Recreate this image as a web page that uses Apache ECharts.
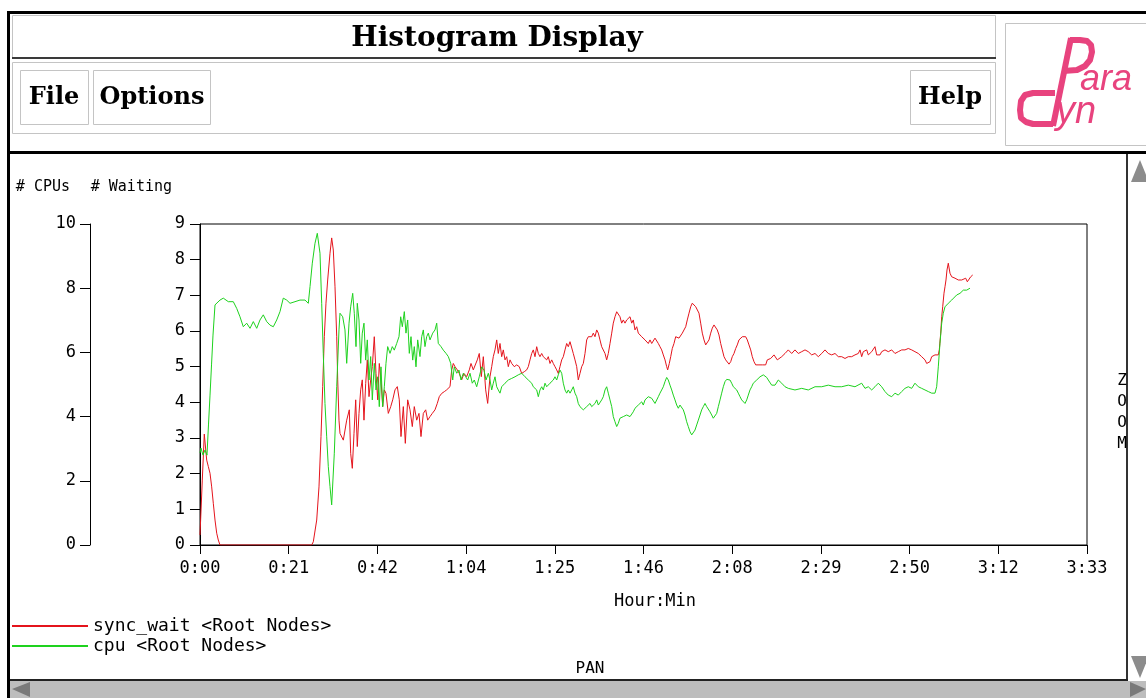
<!DOCTYPE html>
<html>
<head>
<meta charset="utf-8">
<script src="https://cdn.jsdelivr.net/npm/echarts@6/dist/echarts.min.js"></script>
<style>
html,body{margin:0;padding:0;background:#fff;}
#chart{width:1146px;height:698px;}
</style>
</head>
<body>
<div id="chart"></div>
<script>
// ---- data (time in minutes, values in axis units) ----
const xTickLabels = ['0:00','0:21','0:42','1:04','1:25','1:46','2:08','2:29','2:50','3:12','3:33'];
const seriesNames = ['sync_wait <Root Nodes>', 'cpu <Root Nodes>'];
const axisNames = ['# Waiting', '# CPUs'];

// sync_wait, plotted on "# Waiting" axis
const syncWait = [
[0,0.28],[0.24,0.33],[0.55,1.82],[1.03,3.11],[1.61,2.38],[2.00,2.20],[2.41,2.01],[2.81,1.63],[3.20,1.17],[3.61,0.70],[4.02,0.33],[4.40,0.14],[4.81,0],
[26.86,0],[27.25,0.09],[28.07,0.70],[28.62,1.63],[29.10,3.04],[29.51,4.44],[29.90,5.84],[30.30,6.78],[30.71,7.43],[31.27,8.18],[31.67,8.61],[32.06,8.27],[32.47,7.24],[32.88,5.84],[33.12,4.63],[33.43,3.50],[33.67,3.13],[34.47,2.94],
[35.28,3.50],[35.91,3.79],[36.24,2.57],[36.63,2.15],[37.04,3.13],[37.45,4.07],[37.83,2.76],[38.24,3.69],[38.65,4.35],[39.03,4.63],[39.44,3.50],[39.85,4.53],[40.24,5.19],[40.65,4.16],[41.05,4.63],[41.44,5.00],[41.92,5.84],[42.33,4.81],[42.74,4.07],[43.12,5.09],[43.53,4.63],[43.94,3.88],[44.33,4.35],[44.73,4.25],[45.29,3.69],[45.87,3.88],[46.35,4.07],[46.90,4.35],[47.45,4.44],[47.93,4.07],[48.34,3.04],[48.90,3.88],[49.38,2.85],[49.95,4.07],[50.51,3.79],[51.06,3.32],[51.54,3.88],[52.12,3.50],[52.67,3.69],[53.15,3.04],[53.71,3.69],[54.28,3.79],[54.76,3.50],[55.32,3.60],[55.87,3.69],[56.52,3.79],[57.07,3.97],[57.55,4.16],[58.13,4.25],[58.76,4.30],[59.33,4.35],[60.13,4.44],[60.54,4.91],[60.92,5.09],[61.33,5.00],[61.88,4.91],[62.36,4.81],[62.94,4.63],[63.49,4.81],[64.14,4.72],[64.77,4.91],[65.18,5.09],[65.73,4.91],[66.14,4.91],[66.69,5.19],[67.17,5.37],[67.66,4.72],[68.14,5.28],[68.71,4.35],[69.19,3.97],[69.75,4.72],[70.16,5.00],[70.54,5.28],[70.95,5.47],[71.36,5.75],[71.74,5.37],[72.15,5.65],[72.56,5.28],[72.95,5.47],[73.36,5.19],[73.76,5.28],[74.15,5.00],[74.56,5.19],[74.97,5.09],[75.59,5.00],[76.17,5.05],[76.79,5.00],[77.37,4.81],[78.00,4.86],[78.57,4.91],[78.96,5.00],[79.37,5.19],[79.78,5.37],[80.16,5.47],[80.57,5.28],[80.98,5.56],[81.37,5.37],[81.77,5.28],[82.18,5.37],[82.57,5.28],[82.98,5.33],[83.38,5.19],[83.77,5.28],[84.18,5.09],[84.59,5.19],[84.97,5.09],[85.38,5.00],[85.79,4.91],[86.17,4.81],[86.58,5.00],[86.99,5.19],[87.38,5.28],[87.79,5.47],[88.19,5.65],[88.58,5.56],[88.99,5.70],[89.40,5.65],[89.78,5.37],[90.19,5.19],[90.60,5.00],[90.98,4.63],[91.39,4.81],[91.80,5.00],[92.19,5.09],[92.60,5.37],[93.00,5.75],[93.39,5.84],[93.80,5.89],[94.21,5.84],[94.59,5.94],[95.00,5.84],[95.41,6.03],[95.80,5.94],[96.20,5.75],[96.61,5.56],[97.00,5.51],[97.41,5.37],[97.81,5.19],[98.20,5.37],[98.61,5.65],[99.02,5.94],[99.40,6.22],[99.81,6.40],[100.22,6.54],[100.61,6.50],[101.01,6.40],[101.42,6.22],[101.81,6.31],[102.22,6.22],[102.63,6.31],[103.01,6.36],[103.42,6.40],[103.83,6.22],[104.21,6.31],[104.62,6.03],[105.03,6.12],[105.42,5.94],[105.82,5.98],[106.23,5.84],[106.62,5.89],[107.03,5.75],[107.43,5.70],[107.82,5.65],[108.23,5.75],[108.64,5.65],[109.02,5.70],[109.43,5.80],[109.84,5.75],[110.23,5.65],[110.63,5.56],[111.04,5.47],[111.43,5.33],[111.84,5.19],[112.24,5.00],[112.48,4.91],[112.87,5.09],[113.21,5.28],[113.59,5.51],[114.00,5.65],[114.41,5.84],[114.80,5.89],[115.20,5.80],[115.61,5.75],[116.00,5.94],[116.41,5.98],[116.82,6.12],[117.20,6.31],[117.61,6.50],[118.02,6.68],[118.40,6.78],[118.81,6.73],[119.22,6.68],[119.60,6.64],[120.01,6.50],[120.42,6.22],[120.81,5.94],[121.22,5.75],[121.62,5.61],[122.01,5.56],[122.42,5.75],[122.83,5.94],[123.21,6.08],[123.62,6.17],[124.03,6.12],[124.41,6.03],[124.82,5.89],[125.23,5.65],[125.62,5.47],[126.03,5.28],[126.43,5.19],[126.82,5.14],[127.23,5.07],[127.64,5.14],[128.02,5.28],[128.43,5.37],[128.84,5.51],[129.22,5.61],[129.63,5.75],[130.04,5.80],[130.43,5.84],[130.84,5.89],[131.24,5.84],[131.63,5.75],[132.04,5.61],[132.45,5.47],[132.83,5.28],[133.24,5.14],[133.65,5.05],[134.04,5.09],[134.44,5.05],[134.85,5.09],[135.24,5.05],[135.65,5.09],[136.05,5.05],[136.44,5.19],[136.85,5.14],[137.26,5.23],[137.64,5.28],[138.05,5.33],[138.46,5.28],[138.85,5.19],[139.26,5.23],[139.91,5.28],[140.70,5.37],[141.49,5.47],[142.31,5.37],[143.10,5.47],[143.90,5.37],[144.72,5.42],[145.51,5.47],[146.30,5.42],[147.12,5.33],[147.92,5.37],[148.71,5.28],[149.53,5.37],[150.32,5.47],[151.11,5.37],[151.93,5.33],[152.73,5.37],[153.52,5.28],[154.34,5.28],[155.13,5.23],[155.92,5.28],[156.74,5.28],[157.53,5.33],[158.33,5.37],[158.74,5.47],[159.14,5.28],[159.53,5.42],[159.94,5.37],[160.35,5.47],[160.73,5.33],[161.14,5.37],[161.55,5.42],[161.94,5.47],[162.34,5.56],[162.75,5.33],[163.14,5.37],[163.55,5.33],[163.95,5.42],[164.75,5.47],[165.54,5.42],[166.36,5.47],[167.15,5.37],[167.95,5.42],[168.77,5.47],[169.56,5.47],[170.35,5.51],[170.76,5.56],[171.17,5.47],[171.96,5.42],[172.76,5.37],[173.57,5.28],[173.96,5.33],[174.37,5.19],[174.78,5.09],[175.16,5.05],[175.57,5.14],[175.98,5.28],[176.37,5.23],[176.77,5.33],[177.18,5.28],[177.57,5.33],[177.81,5.47],[178.15,5.94],[178.39,6.40],[178.63,6.68],[178.94,7.06],[179.18,7.24],[179.42,7.43],[179.66,7.71],[179.97,7.90],[180.38,7.62],[180.79,7.52],[181.59,7.48],[182.38,7.43],[183.20,7.43],[183.59,7.38],[184.16,7.48],[184.55,7.38],[184.95,7.43],[185.36,7.52],[185.84,7.57]
];

// cpu, plotted on "# CPUs" axis
const cpu = [
[0,2.87],[0.24,3.02],[0.72,2.80],[1.20,2.96],[1.68,2.80],[2.04,3.74],[2.41,4.67],[2.77,5.61],[3.13,6.54],[3.61,7.48],[4.81,7.63],[5.60,7.69],[6.81,7.58],[8.01,7.58],[8.83,7.37],[9.62,7.11],[10.41,6.80],[11.23,6.91],[12.03,6.75],[12.82,6.96],[13.64,6.75],[14.43,7.01],[15.22,7.17],[16.04,6.96],[16.84,6.85],[17.63,6.80],[18.45,7.01],[19.24,7.27],[20.03,7.69],[20.85,7.63],[21.65,7.53],[22.85,7.58],[24.05,7.63],[25.25,7.63],[26.05,7.53],[26.46,8.05],[27.01,8.78],[27.66,9.40],[28.21,9.71],[28.86,9.09],[29.27,7.53],[29.65,5.97],[30.06,4.41],[30.47,3.37],[30.86,2.44],[31.27,1.82],[31.67,1.25],[32.30,2.86],[32.88,4.93],[33.43,6.70],[33.67,7.22],[34.32,7.11],[34.87,6.70],[35.28,5.66],[35.84,6.91],[36.24,7.42],[36.73,7.84],[37.11,7.22],[37.52,6.18],[37.83,7.53],[38.24,7.01],[38.65,5.66],[39.03,6.60],[39.44,6.91],[39.85,5.76],[40.24,6.39],[40.65,5.14],[41.05,5.87],[41.44,4.52],[41.92,5.66],[42.33,4.83],[42.74,5.24],[43.12,4.31],[43.53,5.55],[43.94,4.31],[44.33,4.93],[44.73,5.66],[45.14,6.18],[45.70,5.97],[46.25,6.18],[46.73,6.07],[47.31,6.28],[47.86,6.49],[48.27,7.11],[48.66,6.80],[49.14,7.27],[49.54,6.60],[49.95,7.01],[50.34,5.97],[50.75,6.49],[51.16,5.76],[51.54,6.18],[51.95,5.55],[52.36,6.39],[52.91,5.87],[53.32,6.49],[53.71,6.70],[54.11,6.18],[54.52,6.49],[54.91,6.60],[55.32,6.39],[55.97,6.60],[56.52,6.70],[56.93,6.91],[57.31,6.28],[57.96,6.18],[58.52,6.07],[59.17,5.97],[59.72,5.87],[60.30,5.66],[60.78,5.14],[61.16,5.55],[61.74,5.35],[62.29,5.45],[62.77,5.14],[63.33,5.35],[63.90,5.24],[64.38,5.14],[64.94,5.35],[65.49,5.04],[65.97,5.14],[66.55,4.93],[67.17,5.24],[67.75,5.55],[68.30,5.45],[68.79,5.14],[69.34,5.35],[69.75,5.14],[70.16,4.83],[70.54,5.04],[70.95,5.24],[71.36,4.93],[71.74,4.83],[72.15,4.73],[72.56,4.93],[72.95,4.88],[73.36,5.04],[73.76,5.04],[74.15,5.14],[74.56,5.09],[74.97,5.19],[75.76,5.24],[76.55,5.30],[77.37,5.35],[78.17,5.24],[78.96,5.14],[79.78,5.04],[80.16,4.93],[80.57,4.98],[80.98,4.83],[81.37,4.62],[81.77,4.83],[82.18,4.93],[82.57,4.83],[82.98,5.04],[83.38,4.93],[83.77,4.93],[84.18,5.04],[84.59,5.09],[84.97,5.14],[85.38,5.24],[85.79,5.14],[86.17,5.30],[86.58,5.45],[86.99,5.35],[87.38,5.04],[87.79,4.83],[88.19,4.73],[88.58,4.83],[88.99,4.73],[89.40,4.83],[89.78,4.93],[90.19,4.73],[90.60,4.62],[90.98,4.41],[91.39,4.31],[91.80,4.36],[92.19,4.21],[92.60,4.26],[93.00,4.31],[93.39,4.36],[93.80,4.41],[94.21,4.31],[94.59,4.36],[95.00,4.41],[95.41,4.52],[95.80,4.36],[96.20,4.41],[96.61,4.52],[97.00,4.62],[97.41,4.83],[97.81,4.93],[98.20,4.73],[98.61,4.52],[99.02,4.31],[99.40,4.00],[99.81,3.84],[100.22,3.69],[100.61,3.79],[101.01,3.95],[101.42,3.89],[101.81,4.00],[102.22,3.95],[102.63,4.05],[103.01,4.00],[103.42,4.00],[104.21,4.15],[104.62,4.26],[105.03,4.21],[105.42,4.36],[105.82,4.41],[106.23,4.46],[106.62,4.36],[107.03,4.52],[107.43,4.57],[107.82,4.62],[108.23,4.67],[108.64,4.57],[109.02,4.52],[109.43,4.41],[109.84,4.46],[110.23,4.62],[110.63,4.73],[111.04,4.83],[111.43,4.93],[111.84,5.09],[112.24,5.22],[112.63,5.14],[113.04,4.98],[113.45,4.83],[113.83,4.67],[114.24,4.52],[114.65,4.36],[115.04,4.26],[115.44,4.36],[115.85,4.31],[116.24,4.21],[116.65,4.05],[117.05,3.84],[117.44,3.69],[117.85,3.53],[118.26,3.43],[118.64,3.48],[119.05,3.58],[119.46,3.74],[119.85,3.89],[120.26,4.05],[120.66,4.21],[121.05,4.31],[121.46,4.41],[121.87,4.31],[122.25,4.26],[122.66,4.15],[123.07,4.05],[123.45,3.95],[123.86,4.00],[124.27,4.10],[124.66,4.31],[125.07,4.52],[125.47,4.73],[125.86,4.93],[126.27,5.09],[126.68,5.16],[127.06,5.19],[127.47,5.14],[127.88,5.04],[128.27,4.93],[128.67,4.88],[129.08,4.83],[129.47,4.73],[129.88,4.62],[130.28,4.52],[130.67,4.46],[131.08,4.41],[131.49,4.52],[131.87,4.67],[132.28,4.83],[132.69,4.93],[133.07,5.04],[133.48,5.09],[133.89,5.14],[134.28,5.19],[134.69,5.24],[135.09,5.26],[135.48,5.30],[135.89,5.26],[136.30,5.22],[136.68,5.14],[137.09,5.09],[137.50,4.98],[137.89,4.93],[138.30,4.98],[138.70,5.04],[139.09,5.14],[139.91,5.04],[140.70,4.93],[141.49,4.88],[143.10,4.83],[144.72,4.88],[146.30,4.83],[147.92,4.93],[149.53,4.93],[151.11,4.98],[152.73,4.93],[154.34,4.93],[155.92,4.98],[157.53,4.93],[159.14,5.04],[159.94,4.88],[160.73,4.93],[161.55,4.83],[162.34,4.93],[163.14,5.04],[163.95,4.93],[164.75,4.78],[165.54,4.67],[166.36,4.62],[167.15,4.73],[167.95,4.67],[168.77,4.78],[169.56,4.88],[170.35,4.93],[171.17,4.88],[171.96,5.04],[172.76,4.93],[173.57,4.88],[174.37,4.83],[175.16,4.78],[175.98,4.73],[176.77,4.73],[177.18,4.93],[177.57,5.55],[177.97,6.28],[178.39,6.91],[178.77,7.22],[179.18,7.42],[179.97,7.53],[180.79,7.63],[182.00,7.79],[182.79,7.84],[183.59,7.94],[184.39,7.94],[185.19,8.00]
];

// ---- styling ----
const MONO = 'DejaVu Sans Mono';
const RED = '#e4141c';
const GREEN = '#1ed21e';
const PINK = '#e8437e';
const FRAME = '#c4c4c4';

const toSeconds = arr => arr.map(p => [p[0] * 60, p[1]]);

const chart = echarts.init(document.getElementById('chart'), null, { renderer: 'canvas' });

const monoLabel = { color: '#000', fontFamily: MONO, fontSize: 17 };
const monoName = { color: '#000', fontFamily: MONO, fontSize: 15 };

const option = {
  backgroundColor: '#ffffff',
  animation: false,
  textStyle: { fontFamily: MONO },
  grid: {
    left: 200, top: 224, width: 887, height: 321,
    show: true, borderColor: '#000', borderWidth: 1,
    outerBoundsMode: 'none'
  },
  legend: {
    left: 7, top: 611, orient: 'vertical',
    itemWidth: 76, itemHeight: 2, itemGap: 0, icon: 'rect',
    selectedMode: false,
    textStyle: { color: '#000', fontFamily: MONO, fontSize: 18, lineHeight: 20 },
    data: seriesNames
  },
  xAxis: {
    type: 'value', min: 0, max: 12800, interval: 1280,
    axisLine: { lineStyle: { color: '#000', width: 1 } },
    axisTick: { length: 9, lineStyle: { color: '#000' } },
    axisLabel: Object.assign({ margin: 15, formatter: v => xTickLabels[Math.round(v / 1280)] }, monoLabel),
    splitLine: { show: false },
    name: 'Hour:Min', nameLocation: 'middle', nameGap: 48,
    nameTextStyle: Object.assign({ padding: [0, 0, 0, 23] }, monoLabel)
  },
  yAxis: [
    {
      type: 'value', position: 'left', offset: 0, min: 0, max: 9, interval: 1,
      axisLine: { show: true, lineStyle: { color: '#000' } },
      axisTick: { show: true, length: 10, lineStyle: { color: '#000' } },
      axisLabel: Object.assign({ margin: 15 }, monoLabel),
      splitLine: { show: false },
      name: axisNames[0], nameLocation: 'end', nameGap: 29,
      nameTextStyle: Object.assign({ align: 'right', padding: [0, 28, 0, 0] }, monoName)
    },
    {
      type: 'value', position: 'left', offset: 110, min: 0, max: 10, interval: 2,
      axisLine: { show: true, lineStyle: { color: '#000' } },
      axisTick: { show: true, length: 10, lineStyle: { color: '#000' } },
      axisLabel: Object.assign({ margin: 14 }, monoLabel),
      splitLine: { show: false },
      name: axisNames[1], nameLocation: 'end', nameGap: 29,
      nameTextStyle: Object.assign({ align: 'right', padding: [0, 20, 0, 0] }, monoName)
    }
  ],
  series: [
    {
      name: seriesNames[0], type: 'line', yAxisIndex: 0,
      data: toSeconds(syncWait), symbol: 'none', showSymbol: false,
      lineStyle: { color: RED, width: 1 }, itemStyle: { color: RED }
    },
    {
      name: seriesNames[1], type: 'line', yAxisIndex: 1,
      data: toSeconds(cpu), symbol: 'none', showSymbol: false,
      lineStyle: { color: GREEN, width: 1 }, itemStyle: { color: GREEN }
    }
  ],
  graphic: [
    // window frame
    { type: 'rect', shape: { x: 7, y: 11, width: 1139, height: 3 }, style: { fill: '#000' }, silent: true },
    { type: 'rect', shape: { x: 7, y: 11, width: 3, height: 687 }, style: { fill: '#000' }, silent: true },
    // title box
    { type: 'rect', shape: { x: 12.5, y: 15.5, width: 983, height: 42 }, style: { fill: 'none', stroke: FRAME, lineWidth: 1 }, silent: true },
    { type: 'rect', shape: { x: 12, y: 57, width: 984, height: 2 }, style: { fill: '#3a3a3a' }, silent: true },
    { type: 'text', style: { text: 'Histogram Display', x: 497, y: 39, align: 'center', verticalAlign: 'middle', font: 'bold 28px "DejaVu Serif"', fill: '#000' }, silent: true },
    // menu bar
    { type: 'rect', shape: { x: 12.5, y: 62.5, width: 983, height: 71 }, style: { fill: 'none', stroke: FRAME, lineWidth: 1 }, silent: true },
    { type: 'rect', shape: { x: 20.5, y: 70.5, width: 68, height: 54 }, style: { fill: 'none', stroke: FRAME, lineWidth: 1 }, silent: true },
    { type: 'rect', shape: { x: 93.5, y: 70.5, width: 117, height: 54 }, style: { fill: 'none', stroke: FRAME, lineWidth: 1 }, silent: true },
    { type: 'rect', shape: { x: 910.5, y: 70.5, width: 80, height: 54 }, style: { fill: 'none', stroke: FRAME, lineWidth: 1 }, silent: true },
    { type: 'text', style: { text: 'File', x: 54, y: 98, align: 'center', verticalAlign: 'middle', font: 'bold 24px "DejaVu Serif"', fill: '#000' }, silent: true },
    { type: 'text', style: { text: 'Options', x: 152, y: 98, align: 'center', verticalAlign: 'middle', font: 'bold 24px "DejaVu Serif"', fill: '#000' }, silent: true },
    { type: 'text', style: { text: 'Help', x: 950, y: 98, align: 'center', verticalAlign: 'middle', font: 'bold 24px "DejaVu Serif"', fill: '#000' }, silent: true },
    // logo
    { type: 'rect', shape: { x: 1005.5, y: 23.5, width: 141, height: 122 }, style: { fill: 'none', stroke: FRAME, lineWidth: 1 }, silent: true },
    { type: 'line', shape: { x1: 1071, y1: 38, x2: 1053, y2: 126 }, style: { stroke: PINK, lineWidth: 6 }, silent: true },
    { type: 'polyline', shape: { points: [[1070,40],[1080,40],[1087,41],[1091,45],[1092,52],[1090,60],[1085,66],[1077,70],[1063,71]] }, style: { stroke: PINK, lineWidth: 6, fill: 'none', lineJoin: 'round' }, silent: true },
    { type: 'polyline', shape: { points: [[1055,93],[1033,93],[1025,95],[1021,101],[1020,110],[1021,118],[1026,122],[1033,124],[1053,124]] }, style: { stroke: PINK, lineWidth: 6, fill: 'none', lineJoin: 'round' }, silent: true },
    { type: 'text', style: { text: 'ara', x: 1080, y: 80, align: 'left', verticalAlign: 'middle', font: 'italic 36px "Liberation Sans"', fill: PINK }, silent: true },
    { type: 'text', style: { text: 'yn', x: 1056, y: 112, align: 'left', verticalAlign: 'middle', font: 'italic 38px "Liberation Sans"', fill: PINK }, silent: true },
    // separator under menu
    { type: 'rect', shape: { x: 7, y: 151, width: 1139, height: 3 }, style: { fill: '#000' }, silent: true },
    // right scrollbar (ZOOM)
    { type: 'rect', shape: { x: 1126, y: 154, width: 2, height: 526 }, style: { fill: '#333' }, silent: true },
    { type: 'polygon', shape: { points: [[1140,160],[1131,182],[1149,182]] }, style: { fill: '#8c8c8c' }, silent: true },
    { type: 'polygon', shape: { points: [[1131,656],[1149,656],[1140,678]] }, style: { fill: '#8c8c8c' }, silent: true },
    { type: 'text', style: { text: 'Z\nO\nO\nM', x: 1122, y: 412, align: 'center', verticalAlign: 'middle', font: '16px "DejaVu Sans Mono"', lineHeight: 21, fill: '#000' }, silent: true },
    // bottom scrollbar (PAN)
    { type: 'rect', shape: { x: 10, y: 679, width: 1118, height: 2 }, style: { fill: '#222' }, silent: true },
    { type: 'rect', shape: { x: 10, y: 681, width: 1136, height: 17 }, style: { fill: '#bdbdbd' }, silent: true },
    { type: 'polygon', shape: { points: [[12,689],[30,682],[30,697]] }, style: { fill: '#7a7a7a' }, silent: true },
    { type: 'polygon', shape: { points: [[1146,689],[1130,682],[1130,697]] }, style: { fill: '#7a7a7a' }, silent: true },
    { type: 'text', style: { text: 'PAN', x: 590, y: 669, align: 'center', verticalAlign: 'middle', font: '16px "DejaVu Sans Mono"', fill: '#000' }, silent: true }
  ]
};

chart.setOption(option);
</script>
</body>
</html>
